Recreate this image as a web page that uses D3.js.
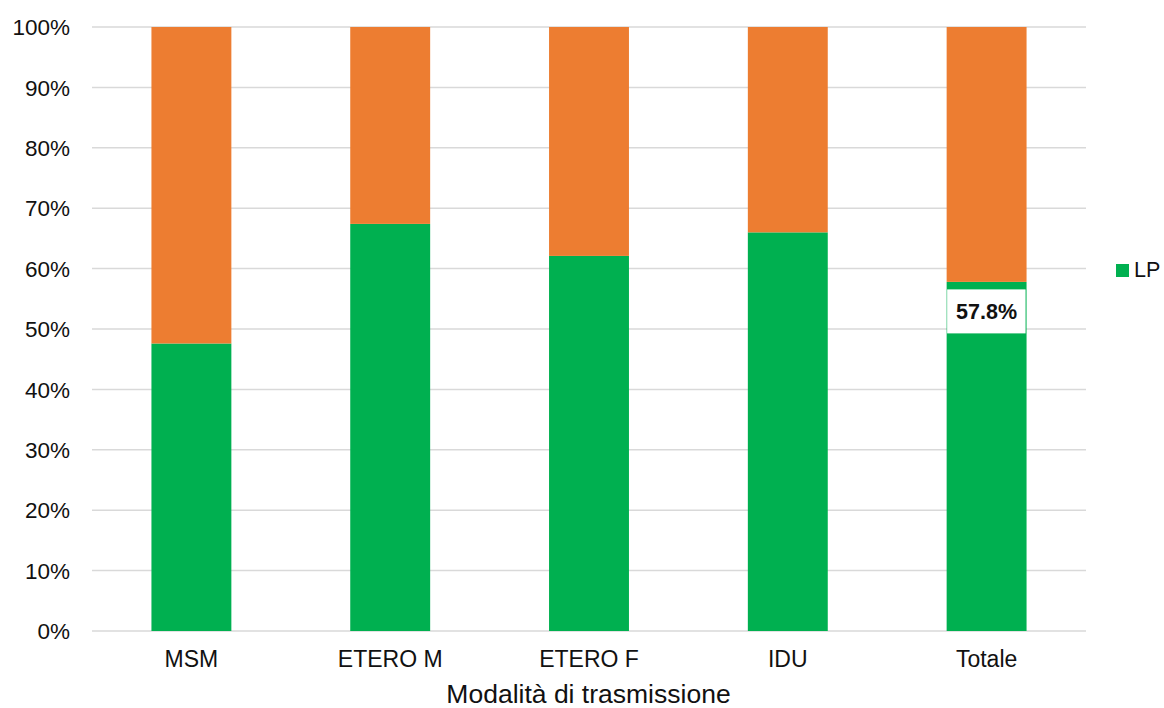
<!DOCTYPE html>
<html>
<head>
<meta charset="utf-8">
<script src="https://cdn.jsdelivr.net/npm/d3@7"></script>
<style>
  html, body { margin: 0; padding: 0; background: #fff; }
  svg { display: block; font-family: "Liberation Sans", Arial, sans-serif; }
</style>
</head>
<body>
<svg id="chart" width="1164" height="708"></svg>
<script>
const categories = ["MSM", "ETERO M", "ETERO F", "IDU", "Totale"];
const lpValues = [47.6, 67.4, 62.1, 66.0, 57.8];
const otherValues = lpValues.map(v => 100 - v);
const yTicks = [0, 10, 20, 30, 40, 50, 60, 70, 80, 90, 100];
const labelIndex = 4;
const labelText = "57.8%";
const axisTitle = "Modalità di trasmissione";
const legendLabel = "LP";

const green = "#00B050", orange = "#ED7D31";
const svg = d3.select("#chart");
const plotLeft = 92, plotRight = 1086, plotTop = 27, plotBottom = 631;

const x = d3.scaleBand().domain(categories).range([plotLeft, plotRight]).paddingInner(0.598).paddingOuter(0.299);
const y = d3.scaleLinear().domain([0, 100]).range([plotBottom, plotTop]);

// gridlines
svg.append("g").selectAll("line").data(yTicks).join("line")
  .attr("x1", plotLeft).attr("x2", plotRight)
  .attr("y1", d => y(d)).attr("y2", d => y(d))
  .attr("stroke", "#d9d9d9").attr("stroke-width", 1.5);

// y axis labels
svg.append("g").selectAll("text").data(yTicks).join("text")
  .attr("x", 70).attr("y", d => y(d)).attr("dy", "0.36em")
  .attr("text-anchor", "end").attr("font-size", 22.5).attr("fill", "#111")
  .text(d => d + "%");

// bars
const bars = svg.append("g");
bars.selectAll("rect.lp").data(categories).join("rect").attr("class", "lp")
  .attr("x", d => x(d)).attr("width", x.bandwidth())
  .attr("y", (d, i) => y(lpValues[i])).attr("height", (d, i) => y(0) - y(lpValues[i]))
  .attr("fill", green);
bars.selectAll("rect.other").data(categories).join("rect").attr("class", "other")
  .attr("x", d => x(d)).attr("width", x.bandwidth())
  .attr("y", (d, i) => y(lpValues[i] + otherValues[i])).attr("height", (d, i) => y(lpValues[i]) - y(lpValues[i] + otherValues[i]))
  .attr("fill", orange);

// x labels
svg.append("g").selectAll("text").data(categories).join("text")
  .attr("x", d => x(d) + x.bandwidth() / 2).attr("y", 667)
  .attr("text-anchor", "middle").attr("font-size", 23).attr("fill", "#111")
  .text(d => d);

// axis title
svg.append("text").attr("x", (plotLeft + plotRight) / 2 - 0.5).attr("y", 703)
  .attr("text-anchor", "middle").attr("font-size", 26.5).attr("fill", "#111")
  .text(axisTitle);

// data label
const lc = categories[labelIndex];
const by = y(lpValues[labelIndex]) + 7.5;
svg.append("rect").attr("x", x(lc) + 0.5).attr("y", by).attr("width", x.bandwidth() - 1.5).attr("height", 44)
  .attr("fill", "#fff");
svg.append("text").attr("x", x(lc) + x.bandwidth() / 2).attr("y", by + 22).attr("dy", "0.36em")
  .attr("text-anchor", "middle").attr("font-size", 21.5).attr("font-weight", "bold").attr("fill", "#111")
  .text(labelText);

// legend
svg.append("rect").attr("x", 1116).attr("y", 264).attr("width", 13).attr("height", 13).attr("fill", green);
svg.append("text").attr("x", 1134).attr("y", 276.5).attr("font-size", 21.5).attr("fill", "#111").text(legendLabel);
</script>
</body>
</html>
